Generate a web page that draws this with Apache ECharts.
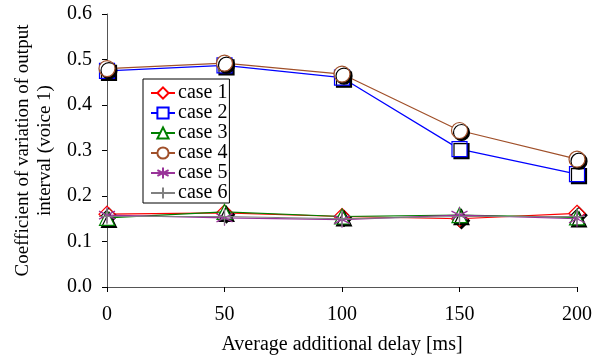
<!DOCTYPE html>
<html><head><meta charset="utf-8">
<script src="https://cdn.jsdelivr.net/npm/echarts@6/dist/echarts.min.js"></script>
<style>html,body{margin:0;padding:0;background:#fff}#c{width:604px;height:362px}</style>
</head><body><div id="c"></div>
<script>
const delays = [0, 50, 100, 150, 200];
const seriesNames = ['case 1', 'case 2', 'case 3', 'case 4', 'case 5', 'case 6'];
const case1 = [0.160, 0.163, 0.155, 0.150, 0.162];
const case2 = [0.475, 0.487, 0.460, 0.303, 0.248];
const case3 = [0.152, 0.165, 0.155, 0.158, 0.153];
const case4 = [0.480, 0.492, 0.468, 0.344, 0.281];
const case5 = [0.158, 0.152, 0.148, 0.158, 0.150];
const case6 = [0.155, 0.155, 0.150, 0.155, 0.155];
const yTicks = [0, 0.1, 0.2, 0.3, 0.4, 0.5, 0.6];

const allData = [case1, case2, case3, case4, case5, case6];
const colors = ['#ff0000', '#0000ff', '#008000', '#a0502a', '#993399', '#808080'];
const symbols = ['diamond', 'rect', 'triangle', 'circle',
  'path://M0,-10L0,10M-8.66,-5L8.66,5M-8.66,5L8.66,-5',
  'path://M0,-10L0,10M-10,0L10,0'];
const sizes = [16, 15, 15, 16, 16, 16];
const font = '"Liberation Serif","Times New Roman",serif';

const chart = echarts.init(document.getElementById('c'), null, {renderer: 'canvas'});
chart.setOption({
  animation: false,
  backgroundColor: '#fff',
  grid: {left: 107, right: 27, top: 14, bottom: 75},
  legend: {
    orient: 'vertical', left: 143, top: 79,
    data: seriesNames,
    itemWidth: 24, itemHeight: 14, itemGap: 0,
    padding: [4, 2, 0, 7],
    borderColor: '#000', borderWidth: 1,
    textStyle: {fontFamily: font, fontSize: 20, lineHeight: 19.8, color: '#000', padding: [0, 0, 0, -2]},
    itemStyle: {shadowColor: 'rgba(0,0,0,0)', shadowBlur: 0, shadowOffsetX: 0, shadowOffsetY: 0}
  },
  xAxis: {
    type: 'value', min: 0, max: 200, interval: 50,
    name: 'Average additional delay [ms]', nameLocation: 'middle', nameGap: 48,
    nameTextStyle: {fontFamily: font, fontSize: 20, color: '#000'},
    axisLine: {lineStyle: {color: '#555', width: 1}},
    axisTick: {show: true, length: 5, inside: false, lineStyle: {color: '#000'}},
    axisLabel: {fontFamily: font, fontSize: 20, color: '#000', margin: 18},
    splitLine: {show: false}
  },
  yAxis: {
    type: 'value', min: yTicks[0], max: yTicks[yTicks.length - 1], interval: 0.1,
    name: 'Coefficient of variation of output\ninterval (voice 1)',
    nameLocation: 'middle', nameGap: 43, nameRotate: 90,
    nameTextStyle: {fontFamily: font, fontSize: 19, color: '#000', lineHeight: 22},
    axisLine: {show: true, lineStyle: {color: '#555', width: 1}},
    axisTick: {show: true, length: 5, inside: false, lineStyle: {color: '#000'}},
    axisLabel: {fontFamily: font, fontSize: 20, color: '#000', margin: 15,
      formatter: v => v.toFixed(1)},
    splitLine: {show: false}
  },
  series: seriesNames.map((n, i) => ({
    name: n, type: 'line',
    data: delays.map((d, j) => [d, allData[i][j]]),
    symbol: symbols[i], symbolSize: sizes[i],
    lineStyle: {color: colors[i], width: 1.2},
    itemStyle: {color: (i >= 4) ? 'rgba(0,0,0,0)' : '#fff', borderColor: colors[i], borderWidth: 1.2,
      shadowColor: (i >= 4) ? 'rgba(0,0,0,0)' : '#000', shadowBlur: 0, shadowOffsetX: 2, shadowOffsetY: 2},
    emphasis: {disabled: true},
    z: 2 + i
  }))
});
</script></body></html>
